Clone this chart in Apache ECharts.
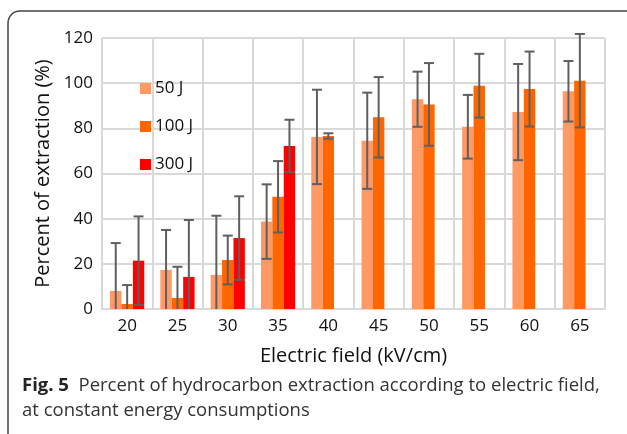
<!DOCTYPE html>
<html><head><meta charset="utf-8">
<script src="https://cdn.jsdelivr.net/npm/echarts@6/dist/echarts.min.js"></script>
<style>html,body{margin:0;padding:0;background:#fff}#c{width:627px;height:434px}</style>
</head><body><div id="c"></div>
<script>
const categories = ['20','25','30','35','40','45','50','55','60','65'];
const seriesNames = ['50 J','100 J','300 J'];
const vals50  = [8.0, 17.3, 15.1, 38.7, 76.2, 74.5, 92.9, 80.7, 87.2, 96.4];
const err50   = [21.2, 17.7, 26.2, 16.5, 20.9, 21.3, 12.2, 14.1, 21.3, 13.4];
const vals100 = [2.2, 4.9, 21.7, 49.7, 76.6, 84.9, 90.6, 98.9, 97.4, 101.1];
const err100  = [8.4, 13.8, 10.8, 15.8, 1.2, 17.8, 18.3, 14.1, 16.6, 20.7];
const vals300 = [21.4, 14.2, 31.4, 72.2, null, null, null, null, null, null];
const err300  = [19.6, 25.2, 18.5, 11.6, null, null, null, null, null, null];
const yTicks = {min: 0, max: 120, interval: 20};

const colors = ['#FF9966', '#FF6600', '#FF0000'];
const allVals = [vals50, vals100, vals300];
const allErr = [err50, err100, err300];
const FONT = 'Open Sans';
const GAP = 0.32;

function errSeries(k) {
  const data = categories.map((c, i) => [i, allVals[k][i], allErr[k][i]]);
  return {
    type: 'custom', z: 5, clip: false, silent: true,
    encode: {x: 0, y: 1},
    data: data,
    renderItem: function (params, api) {
      const v = api.value(1), e = api.value(2);
      if (v == null || isNaN(v) || e == null || isNaN(e)) return;
      const band = api.size([1, 0])[0];
      const bw = band * (1 - GAP) / 3;
      const off = (k - 1) * bw;
      const lowV = Math.max(0, v - e);
      const top = api.coord([api.value(0), v + e]);
      const bot = api.coord([api.value(0), lowV]);
      const x = top[0] + off;
      const st = {stroke: '#5f5f5f', lineWidth: 2};
      const ch = [
        {type: 'line', shape: {x1: x, y1: top[1], x2: x, y2: bot[1]}, style: st},
        {type: 'line', shape: {x1: x - 5, y1: top[1], x2: x + 5, y2: top[1]}, style: st}
      ];
      if (v - e > 0) ch.push({type: 'line', shape: {x1: x - 5, y1: bot[1], x2: x + 5, y2: bot[1]}, style: st});
      return {type: 'group', children: ch};
    }
  };
}

const chart = echarts.init(document.getElementById('c'), null, {renderer: 'canvas'});
const barSeries = seriesNames.map((n, k) => ({
  name: n, type: 'bar', data: allVals[k],
  barGap: '0%', barCategoryGap: (GAP * 100) + '%',
  itemStyle: {color: colors[k]}
}));
chart.setOption({
  animation: false,
  textStyle: {fontFamily: FONT},
  grid: {left: 102, right: 22, top: 38, bottom: 125},
  legend: {
    orient: 'vertical', left: 140, top: 80, padding: 0, itemWidth: 11, itemHeight: 11, itemGap: 21,
    icon: 'rect', data: seriesNames,
    textStyle: {fontFamily: FONT, fontSize: 17, color: '#111', padding: [0, 0, 0, -1]}
  },
  xAxis: {
    type: 'category', data: categories,
    axisLine: {lineStyle: {color: '#d9d9d9', width: 2}},
    axisTick: {show: false},
    splitLine: {show: true, lineStyle: {color: '#d9d9d9', width: 2}},
    axisLabel: {fontSize: 17, color: '#111', margin: 9, fontFamily: FONT},
    name: 'Electric field (kV/cm)', nameLocation: 'middle', nameGap: 37,
    nameTextStyle: {fontSize: 20, color: '#111', fontFamily: FONT}
  },
  yAxis: {
    type: 'value', min: yTicks.min, max: yTicks.max, interval: yTicks.interval,
    axisLine: {show: false}, axisTick: {show: false},
    splitLine: {lineStyle: {color: '#d9d9d9', width: 2}},
    axisLabel: {fontSize: 17, color: '#111', margin: 9, fontFamily: FONT},
    name: 'Percent of extraction (%)', nameLocation: 'middle', nameGap: 49,
    nameTextStyle: {fontSize: 20, color: '#111', fontFamily: FONT}
  },
  graphic: [
    {type: 'rect', shape: {x: 8, y: 11, width: 650, height: 440, r: 12},
     style: {fill: 'none', stroke: '#444', lineWidth: 1.5}, silent: true},
    {type: 'text', left: 22, top: 373,
     style: {text: '{b|Fig. 5}  Percent of hydrocarbon extraction according to electric field,\nat constant energy consumptions',
       rich: {b: {fontWeight: 'bold', fontSize: 18.5, fontFamily: FONT, fill: '#222'}},
       fontSize: 18.5, fontFamily: FONT, fill: '#333', lineHeight: 25}}
  ],
  series: barSeries.concat([errSeries(0), errSeries(1), errSeries(2)])
});
</script></body></html>
